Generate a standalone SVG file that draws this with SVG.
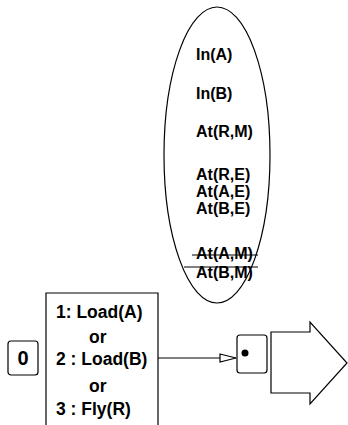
<svg xmlns="http://www.w3.org/2000/svg" width="348" height="425" viewBox="0 0 348 425">
<style>
.t{font-family:"Liberation Sans",Arial,sans-serif;font-weight:bold;fill:#000}
.e{font-size:16px}
.b{font-size:17.5px}
.s{fill:none;stroke:#000;stroke-width:1.2}
</style>
<defs>
<marker id="oa" markerWidth="18" markerHeight="10" refX="17" refY="5" orient="auto" markerUnits="userSpaceOnUse">
<path d="M1,1 L17,5 L1,9 Z" fill="#fff" stroke="#000" stroke-width="1.2"/>
</marker>
</defs>
<rect width="348" height="425" fill="#fff"/>
<g id="state">
<ellipse class="s" cx="217" cy="155" rx="53" ry="148"/>
<text class="t e" x="196" y="60">In(A)</text>
<text class="t e" x="196" y="99">In(B)</text>
<text class="t e" x="196" y="137">At(R,M)</text>
<text class="t e" x="196" y="180">At(R,E)</text>
<text class="t e" x="196" y="197">At(A,E)</text>
<text class="t e" x="196" y="214">At(B,E)</text>
<text class="t e" x="196" y="259">At(A,M)</text>
<text class="t e" x="196" y="278">At(B,M)</text>
<line class="s" x1="192" y1="255" x2="258" y2="255"/>
<line class="s" x1="184" y1="267" x2="258" y2="267"/>
</g>
<g id="zero">
<rect class="s" x="8" y="341" width="30" height="34" rx="3"/>
<text class="t" x="23" y="365" font-size="20" text-anchor="middle">0</text>
</g>
<g id="actions">
<path class="s" d="M46,426 V293 H158 V426"/>
<text class="t b" x="56" y="318">1: Load(A)</text>
<text class="t b" x="89" y="343">or</text>
<text class="t b" x="56" y="365">2 : Load(B)</text>
<text class="t b" x="89" y="392">or</text>
<text class="t b" x="56" y="415">3 : Fly(R)</text>
</g>
<g id="dot">
<rect class="s" x="237" y="335" width="30" height="38" rx="3"/>
<circle cx="245" cy="353" r="3.5" fill="#000"/>
</g>
<g id="bigarrow">
<path class="s" d="M271,332 H310 V322 L347,363 L310,404 V393 H271 Z"/>
</g>
<g id="connectors">
<line class="s" x1="158" y1="358" x2="236" y2="358" marker-end="url(#oa)"/>
</g>
</svg>
